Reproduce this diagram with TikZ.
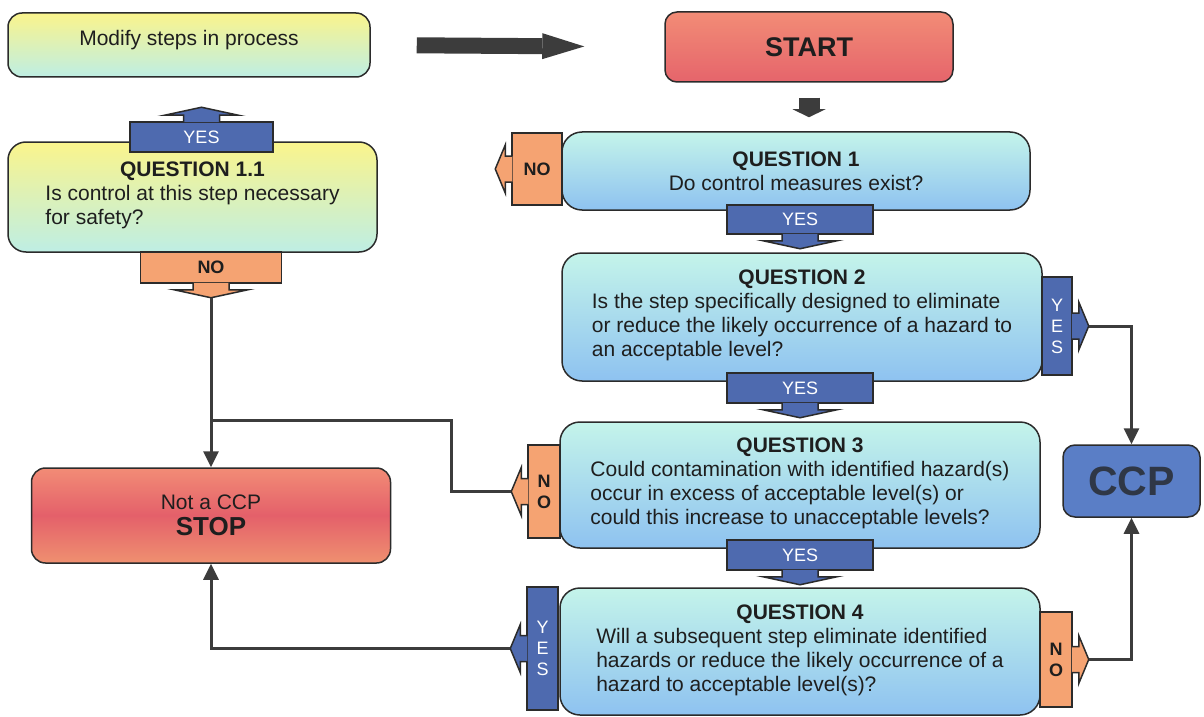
\documentclass[tikz,border=0pt]{standalone}
\usepackage{fontspec}
\setmainfont{Liberation Sans}
\usepackage{xcolor}
\usepackage{tikz}
\usetikzlibrary{arrows.meta,positioning,calc}

\definecolor{edge}{HTML}{2B2B2B}
\definecolor{linkgray}{HTML}{3C3C3C}
\definecolor{txt}{HTML}{1E1E1E}
\definecolor{qtop}{HTML}{C4F4EA}
\definecolor{qbot}{HTML}{8EC2F0}
\definecolor{ytop}{HTML}{FAF48C}
\definecolor{ybot}{HTML}{BEEEE4}
\definecolor{rtop}{HTML}{F28C76}
\definecolor{rmid}{HTML}{E4606A}
\definecolor{rbot}{HTML}{EF9070}
\definecolor{yesblue}{HTML}{4E6AAF}
\definecolor{noorange}{HTML}{F5A372}
\definecolor{ccpblue}{HTML}{5A7EC6}
\definecolor{ccptext}{HTML}{2F3746}

% arrow heads of the YES/NO tabs (drawn pointing down, rotated as needed)
\tikzset{
    vhead/.pic={
        \filldraw[pic actions] (-18,-1) -- (-18,6) -- (-37,6) -- (0,14) -- (37,6) -- (18,6) -- (18,-1);
        \coordinate (-tip) at (0,14);
    },
    shead/.pic={
        \filldraw[pic actions] (-13,-1) -- (-13,6) -- (-24,6) -- (0,16) -- (24,6) -- (13,6) -- (13,-1);
        \coordinate (-tip) at (0,16);
    }
}

\begin{document}
\begin{tikzpicture}[
        x=0.5pt, y=-0.5pt,
        >={Triangle[length=8pt,width=7.5pt]},
        font=\fontsize{10.5}{12}\selectfont,
        text=txt,
        % boxes
        qbox/.style={draw=edge, line width=0.75pt, rounded corners=10pt, top color=qtop, bottom color=qbot, align=center, inner sep=0pt},
        ybox/.style={draw=edge, line width=0.75pt, rounded corners=7pt, top color=ytop, bottom color=ybot, align=center, inner sep=0pt},
        startbox/.style={draw=edge, line width=0.75pt, rounded corners=6pt, top color=rtop, bottom color=rmid!90!rtop, align=center, inner sep=0pt},
        stopbox/.style={draw=edge, line width=0.75pt, rounded corners=7pt, top color=rtop, bottom color=rbot, middle color=rmid, align=center, inner sep=0pt},
        ccpbox/.style={draw=edge, line width=0.75pt, rounded corners=6pt, fill=ccpblue, text=ccptext, inner sep=0pt},
        % tabs
        yesfill/.style={draw=edge, fill=yesblue, line width=0.75pt},
        nofill/.style={draw=edge, fill=noorange, line width=0.75pt},
        yestab/.style={yesfill, text=white, inner sep=0pt, align=center, font=\fontsize{9}{10.5}\selectfont},
        notab/.style={nofill, text=txt, inner sep=0pt, align=center, font=\fontsize{9}{10.5}\selectfont\bfseries},
        % connectors
        link/.style={draw=linkgray, line width=1.5pt},
        blockarrow/.style={draw=linkgray, line cap=butt}
    ]
    \useasboundingbox (0,0) rectangle (1204,717);

    % main boxes
    \node[ybox, minimum width=181pt, minimum height=32pt, text height=7.6pt, text depth=7pt] (modify) at (189,45) {Modify steps in process};
    \node[startbox, minimum width=144pt, minimum height=35pt, font=\fontsize{13.5}{16}\selectfont\bfseries] (start) at (809,47) {START};
    \node[qbox, minimum width=234pt, minimum height=39pt] (q1) at (796,171)
        {\textbf{QUESTION 1}\\ Do control measures exist?};
    \node[qbox, minimum width=240pt, minimum height=64pt] (q2) at (802,317)
        {\textbf{QUESTION 2}\\ \begin{tabular}[t]{@{}l@{}}Is the step specifically designed to eliminate\\ or reduce the likely occurrence of a hazard to\\ an acceptable level?\end{tabular}};
    \node[qbox, minimum width=240pt, minimum height=63pt] (q3) at (800,485)
        {\textbf{QUESTION 3}\\ \begin{tabular}[t]{@{}l@{}}Could contamination with identified hazard(s)\\ occur in excess of acceptable level(s) or\\ could this increase to unacceptable levels?\end{tabular}};
    \node[qbox, minimum width=240pt, minimum height=63.5pt] (q4) at (800,651.5)
        {\textbf{QUESTION 4}\\ \begin{tabular}[t]{@{}l@{}}Will a subsequent step eliminate identified\\ hazards or reduce the likely occurrence of a\\ hazard to acceptable level(s)?\end{tabular}};
    \node[ybox, minimum width=184.5pt, minimum height=55pt, rounded corners=9pt] (q11) at (192.5,197)
        {\textbf{QUESTION 1.1}\\ \begin{tabular}[t]{@{}l@{}}Is control at this step necessary\\ for safety?\end{tabular}};
    \node[stopbox, minimum width=179.5pt, minimum height=47.5pt] (stop) at (211,515.5)
        {Not a CCP\\[1pt] {\fontsize{13}{15}\selectfont\bfseries STOP}};
    \node[ccpbox, minimum width=68.5pt, minimum height=36pt, font=\fontsize{20.5}{24}\selectfont\bfseries] (ccp) at (1131.5,481) {CCP};

    % block arrows
    \draw[blockarrow, line width=8pt, -{Triangle[length=21pt,width=13pt,line width=0pt]}, shorten <=23pt, shorten >=40pt] (modify.east) -- (start.west);
    \draw[blockarrow, line width=10.5pt, -{Triangle[length=4pt,width=16.5pt,line width=0pt]}, shorten <=7.5pt, shorten >=7pt] (start.south) -- (start.south |- q1.north);

    % YES / NO tabs
    \node[notab, minimum width=25pt, minimum height=36pt] (no1) at (537,169) {NO};
    \pic[nofill, rotate=-90] (no1h) at (no1.west) {shead};
    \node[yestab, minimum width=73pt, minimum height=14.5pt] (yes1) at (800,219.5) {YES};
    \pic[yesfill] (yes1h) at (yes1.south) {vhead};
    \node[yestab, minimum width=15pt, minimum height=49pt] (yes2r) at (1057,326) {Y\\E\\S};
    \pic[yesfill, rotate=90] (yes2rh) at (yes2r.east) {shead};
    \node[yestab, minimum width=73pt, minimum height=15pt] (yes2) at (800,388) {YES};
    \pic[yesfill] (yes2h) at (yes2.south) {vhead};
    \node[notab, minimum width=16pt, minimum height=46.5pt] (no3) at (544,491.5) {N\\O};
    \pic[nofill, rotate=-90] (no3h) at (no3.west) {shead};
    \node[yestab, minimum width=73pt, minimum height=15pt] (yes3) at (800,555) {YES};
    \pic[yesfill] (yes3h) at (yes3.south) {vhead};
    \node[yestab, minimum width=15.5pt, minimum height=61.5pt] (yes4) at (542.5,648.5) {Y\\E\\S};
    \pic[yesfill, rotate=-90] (yes4h) at (yes4.west) {shead};
    \node[notab, minimum width=16pt, minimum height=47.5pt] (no4) at (1056,659.5) {N\\O};
    \pic[nofill, rotate=90] (no4h) at (no4.east) {shead};
    \node[yestab, minimum width=71.5pt, minimum height=15pt] (yes11) at (201.5,137) {YES};
    \pic[yesfill, rotate=180] (yes11h) at (yes11.north) {vhead};
    \node[notab, minimum width=70.5pt, minimum height=15.5pt] (no11) at (211,267.5) {NO};
    \pic[nofill] (no11h) at (no11.south) {vhead};

    % connectors
    \coordinate (join) at (211,420);
    \draw[link, ->] (no11h-tip) -- (stop.north);
    \draw[link] (no3h-tip) -- ++(-60,0) |- (join);
    \draw[link, ->] (yes4h-tip) -| (stop.south);
    \draw[link, ->] (yes2rh-tip) -| (ccp.north);
    \draw[link, ->] (no4h-tip) -| (ccp.south);
\end{tikzpicture}
\end{document}
